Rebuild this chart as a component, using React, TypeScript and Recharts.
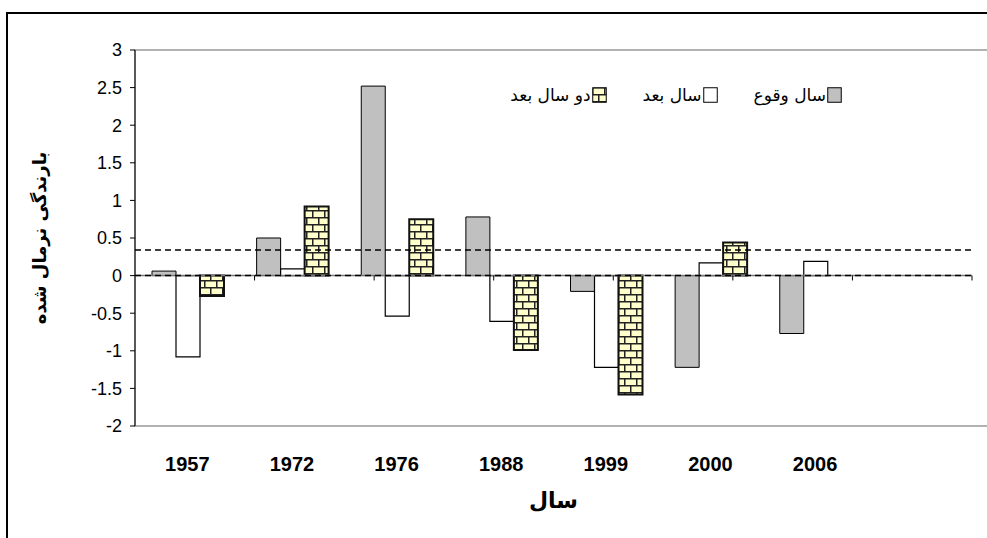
import { BarChart, Bar, XAxis, YAxis, ReferenceLine, ReferenceArea } from 'recharts'

const W = 987
const H = 538

const years = ['1957', '1972', '1976', '1988', '1999', '2000', '2006', '']
const occurrence = [0.06, 0.5, 2.52, 0.78, -0.21, -1.22, -0.77, null]
const nextYear = [-1.08, 0.09, -0.54, -0.61, -1.22, 0.17, 0.19, null]
const twoYears = [-0.27, 0.92, 0.75, -0.99, -1.58, 0.44, null, null]
const yTicks = [-2, -1.5, -1, -0.5, 0, 0.5, 1, 1.5, 2, 2.5, 3]
const threshold = 0.34

const seriesNames = ['سال وقوع', 'سال بعد', 'دو سال بعد']

const latin = "'Liberation Sans', Arial, sans-serif"
const narrow = "'Liberation Sans Narrow', 'Liberation Sans', Arial, sans-serif"
const persian = "'DejaVu Sans', sans-serif"

// small drop of the category tick marks below the zero line (in y units)
const tickDrop = 0.065

function BrickPattern({ id }: { id: string }) {
  return (
    <pattern id={id} width={12} height={14} patternUnits="userSpaceOnUse">
      <rect width={12} height={14} fill="#FFFFCC" />
      <path d="M0 0.75H12 M0 7.75H12 M0.75 0V7.75 M6.75 7.75V14" stroke="#222" strokeWidth={1.5} />
    </pattern>
  )
}

function Swatch({ kind }: { kind: number }) {
  const fill = kind === 0 ? '#C0C0C0' : kind === 1 ? '#FFFFFF' : 'url(#brickLegend)'
  return (
    <svg width={15} height={16} style={{ display: 'block' }}>
      {kind === 2 && <defs><BrickPattern id="brickLegend" /></defs>}
      <rect x={0.75} y={0.75} width={13.5} height={14.5} fill={fill} stroke="#000" strokeWidth={1} />
    </svg>
  )
}

export default function App() {
  const data = years.map((y, i) => ({
    year: y,
    occ: occurrence[i],
    next: nextYear[i],
    two: twoYears[i],
  }))
  const boundaries = years.map((_, i) => i + 1).slice(0, years.length - 1)

  return (
    <div style={{ position: 'absolute', left: 0, top: 0, width: W, height: H, overflow: 'hidden', background: '#fff' }}>
      {/* outer frame, runs off the page on right and bottom */}
      <div style={{
        position: 'absolute', left: 6, top: 12, width: 1200, height: 800,
        borderTop: '2px solid #000', borderLeft: '2px solid #000',
      }} />

      <div style={{ position: 'absolute', left: 0, top: 0 }}>
        <BarChart
          width={W}
          height={H}
          data={data}
          margin={{ top: 50, right: 15, left: 10, bottom: 0 }}
          barCategoryGap={17}
          barGap={0}
        >
          <defs>
            <BrickPattern id="brickFill" />
          </defs>
          <XAxis
            dataKey="year"
            height={112}
            interval={0}
            tickSize={0}
            tickMargin={31}
            axisLine={false}
            tick={{ fill: '#000', fontSize: 20, fontWeight: 700, fontFamily: narrow }}
            label={{
              value: 'سال', position: 'insideBottom', offset: 30,
              style: { fill: '#000', fontSize: 22, fontWeight: 700, fontFamily: persian },
            }}
          />
          <XAxis xAxisId="grid" type="number" domain={[0, 8]} hide />
          <YAxis
            domain={[-2, 3]}
            ticks={yTicks}
            width={125}
            interval={0}
            tickSize={5}
            tickMargin={8}
            axisLine={{ stroke: '#000', strokeWidth: 1 }}
            tickLine={{ stroke: '#000' }}
            tick={{ fill: '#000', fontSize: 18, fontFamily: latin }}
            label={{
              value: 'بارندگی نرمال شده', angle: -90, position: 'insideLeft', offset: 30,
              style: { textAnchor: 'middle', fill: '#000', fontSize: 18, fontWeight: 700, fontFamily: persian },
            }}
          />

          <ReferenceArea xAxisId="grid" x1={0} x2={8} y1={-2} y2={3} fill="none" stroke="#999" strokeWidth={1.5} ifOverflow="visible" />

          <Bar dataKey="occ" fill="#C0C0C0" stroke="#000" strokeWidth={1} isAnimationActive={false} />
          <Bar dataKey="next" fill="#FFFFFF" stroke="#000" strokeWidth={1.2} isAnimationActive={false} />
          <Bar dataKey="two" fill="url(#brickFill)" stroke="#111" strokeWidth={2} isAnimationActive={false} />

          <ReferenceLine y={0} stroke="#777" strokeWidth={1.5} />
          <ReferenceLine y={0} stroke="#000" strokeWidth={1.5} strokeDasharray="6 4" />
          <ReferenceLine y={threshold} stroke="#000" strokeWidth={1.5} strokeDasharray="6 4" />
          {boundaries.map(k => (
            <ReferenceLine
              key={k}
              xAxisId="grid"
              segment={[{ x: k, y: 0 }, { x: k, y: -tickDrop }]}
              stroke="#000"
              strokeWidth={1}
              ifOverflow="visible"
            />
          ))}
        </BarChart>
      </div>

      {/* legend */}
      <div dir="rtl" style={{
        position: 'absolute', top: 86, right: 145, display: 'flex', alignItems: 'center', gap: 36,
        fontFamily: persian, fontSize: 17, color: '#000',
      }}>
        {seriesNames.map((name, i) => (
          <div key={name} style={{ display: 'flex', alignItems: 'center', gap: 1 }}>
            <Swatch kind={i} />
            <span style={{ lineHeight: '18px' }}>{name}</span>
          </div>
        ))}
      </div>
    </div>
  )
}
